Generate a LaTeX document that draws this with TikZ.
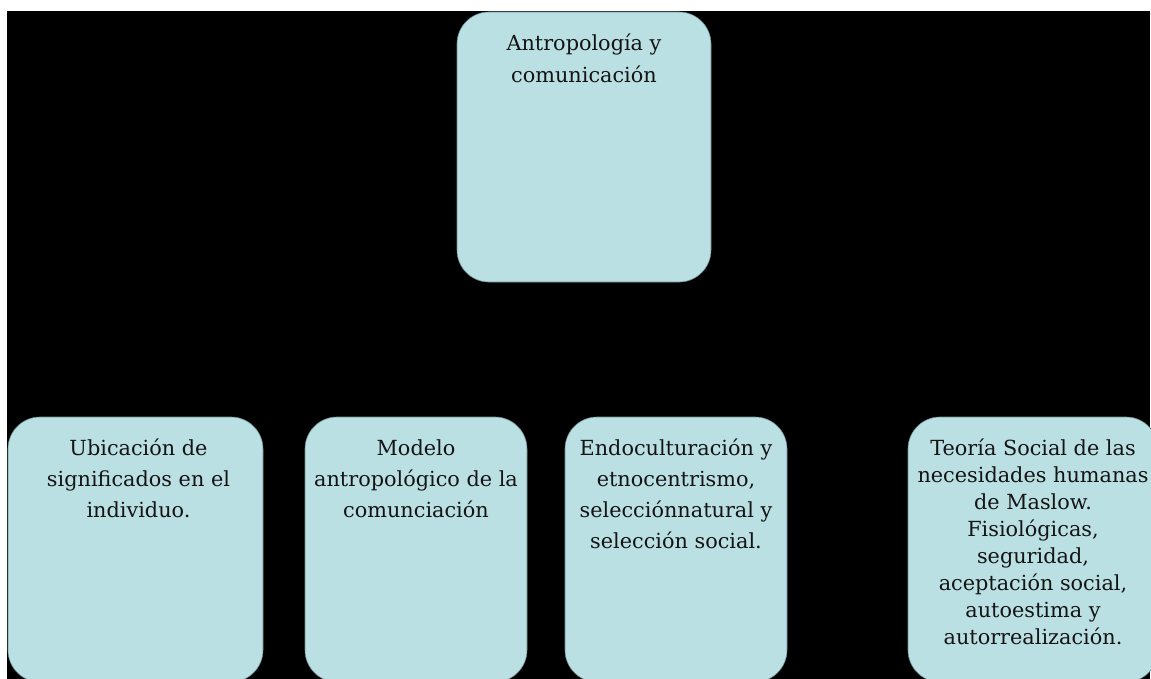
\documentclass[tikz,border=0pt]{standalone}
\usepackage{fontspec}
\setmainfont{DejaVu Serif}
\usetikzlibrary{calc}
\definecolor{boxfill}{RGB}{186,224,227}
\definecolor{boxline}{RGB}{110,140,142}
\definecolor{txt}{RGB}{20,20,20}
\begin{document}
\begin{tikzpicture}[x=1pt,y=-1pt,
  box/.style={draw=boxline, line width=0.6pt, fill=boxfill, rounded corners=32pt, inner sep=0pt},
  lbl/.style={font=\fontsize{20.8}{#1}\selectfont, text=txt, align=center, inner sep=0pt, anchor=north}]
  \clip (0,0) rectangle (1151,679);
  \fill[white] (0,0) rectangle (1151,679);
  \fill[black] (7,11) rectangle (1150,679);
  % boxes
  \node[box, minimum width=254pt, minimum height=270pt] (top) at (584,147) {};
  \node[box, minimum width=255pt, minimum height=265pt] (b1) at (135.5,549.5) {};
  \node[box, minimum width=222pt, minimum height=265pt] (b2) at (416,549.5) {};
  \node[box, minimum width=222pt, minimum height=265pt] (b3) at (676,549.5) {};
  \node[box, minimum width=250pt, minimum height=265pt] (b4) at (1033,549.5) {};
  % texts
  \node[lbl=32] (topt) at ($(top.north)+(0,16.6)$) {\strut Antropología y\\comunicación};
  \node[lbl=31] (b1t) at ($(b1.north)+(3,17.3)$) {\strut Ubicación de\\significados en el\\individuo.};
  \node[lbl=31] (b2t) at ($(b2.north)+(0,17.3)$) {\strut Modelo\\antropológico de la\\comunciación};
  \node[lbl=31] (b3t) at ($(b3.north)+(0,17.3)$) {\strut Endoculturación y\\etnocentrismo,\\selecciónnatural y\\selección social.};
  \node[lbl=27] (b4t) at ($(b4.north)+(0,20.1)$) {\strut Teoría Social de las\\necesidades humanas\\de Maslow.\\Fisiológicas,\\seguridad,\\aceptación social,\\autoestima y\\autorrealización.};
\end{tikzpicture}
\end{document}
